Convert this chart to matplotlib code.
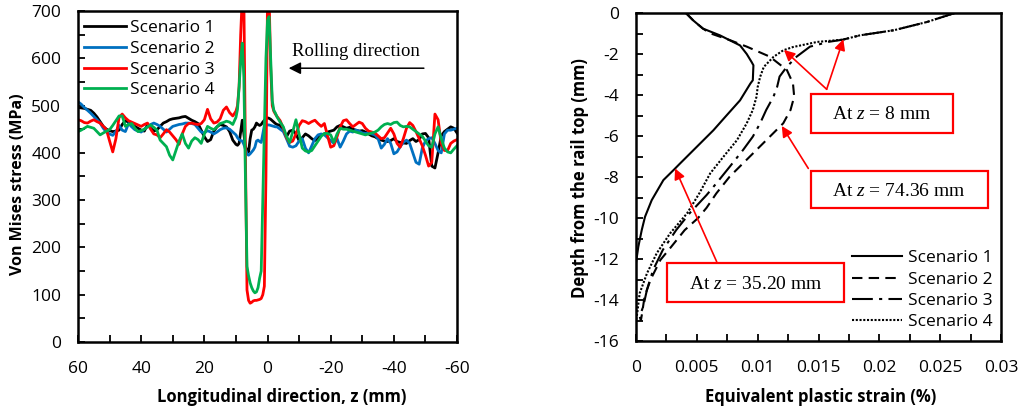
import numpy as np
import matplotlib
matplotlib.use("Agg")
import matplotlib.pyplot as plt
from matplotlib.patches import Rectangle
from matplotlib.ticker import MultipleLocator, FuncFormatter

plt.rcParams['font.family'] = ['Open Sans', 'DejaVu Sans']
plt.rcParams['axes.unicode_minus'] = False
plt.rcParams['mathtext.fontset'] = 'custom'
plt.rcParams['mathtext.rm'] = 'Liberation Serif'
plt.rcParams['mathtext.it'] = 'Liberation Serif:italic'

# ---------------- Von Mises stress along the rail (left panel) ----------------
# sampling positions along z (mm): 1 mm steps, 0.5 mm steps through the contact patch
z = np.concatenate([np.arange(60, 10, -1.0),
                    np.arange(10, -3, -0.5),
                    np.arange(-3, -61, -1.0)])

vm_s1 = [496, 495, 494, 492, 490, 484, 476, 466, 456, 450,
         447, 445, 446, 448, 460, 468, 465, 462, 456, 452,
         448, 446, 460, 452, 446, 449, 456, 463, 466, 470,
         472, 473, 474, 476, 477, 473, 469, 466, 462, 448,
         434, 424, 428, 446, 455, 460, 458, 455, 445, 427,
         418, 416, 420, 445, 469, 440, 413, 405, 402, 430, 448, 450, 455,
         463, 460, 458, 460, 465, 469, 472, 474, 473, 471, 468, 465, 462,
         460, 458, 448, 434, 446, 448, 440, 426, 432, 440,
         436, 430, 426, 432, 438, 440, 444, 446, 448, 455,
         458, 455, 452, 454, 450, 448, 446, 447, 444, 440,
         436, 434, 430, 427, 425, 424, 426, 430, 424, 422,
         421, 420, 426, 430, 424, 428, 440, 441, 432, 372,
         368, 400, 436, 445, 450, 455, 452, 442]

vm_s2 = [508, 503, 496, 490, 484, 477, 470, 463, 452, 444,
         440, 437, 445, 458, 448, 445, 462, 455, 449, 446,
         444, 450, 455, 460, 463, 460, 456, 450, 444, 450,
         456, 458, 460, 461, 463, 463, 462, 460, 452, 444,
         442, 447, 444, 440, 444, 449, 452, 453, 450, 444,
         438, 432, 428, 426, 425, 418, 408, 398, 395, 398, 402, 406, 412,
         425, 427, 424, 422, 440, 458, 460, 459, 459, 458, 457, 456, 455,
         455, 450, 445, 430, 414, 412, 415, 425, 430, 410,
         400, 415, 430, 438, 440, 438, 432, 426, 420, 430,
         412, 425, 440, 446, 444, 448, 446, 442, 441, 442,
         440, 438, 430, 410, 418, 430, 420, 398, 402, 413,
         422, 427, 420, 400, 380, 376, 410, 425, 430, 432,
         420, 405, 400, 440, 448, 448, 450, 452]

vm_s3 = [470, 468, 464, 463, 467, 470, 466, 463, 456, 449,
         425, 402, 430, 475, 482, 474, 468, 465, 462, 459,
         456, 460, 463, 450, 440, 438, 432, 440, 449, 444,
         436, 428, 418, 440, 456, 462, 463, 461, 460, 462,
         470, 492, 472, 463, 465, 472, 490, 497, 485, 478,
         488, 500, 540, 650, 730, 730, 400, 110, 88, 82, 84, 87, 88,
         88, 89, 90, 92, 100, 118, 350, 730, 730, 580, 500, 488, 482,
         477, 468, 452, 432, 422, 425, 440, 458, 468, 466,
         462, 466, 469, 462, 456, 462, 436, 412, 415, 434,
         455, 468, 470, 462, 455, 460, 465, 462, 452, 446,
         444, 442, 436, 430, 432, 442, 452, 440, 420, 412,
         430, 452, 464, 458, 445, 430, 415, 395, 372, 380,
         482, 470, 420, 405, 405, 420, 425, 428]

vm_s4 = [445, 448, 452, 456, 454, 452, 445, 438, 442, 446,
         449, 458, 468, 478, 478, 456, 460, 462, 452, 445,
         447, 450, 455, 459, 454, 448, 427, 420, 413, 395,
         385, 405, 425, 440, 420, 410, 425, 432, 428, 420,
         440, 456, 452, 449, 455, 462, 464, 467, 465, 460,
         475, 492, 540, 595, 632, 560, 350, 160, 140, 125, 115, 108, 104,
         106, 115, 135, 150, 300, 450, 600, 680, 688, 600, 510, 490, 484,
         476, 465, 455, 435, 422, 445, 470, 440, 410, 404,
         402, 405, 415, 425, 435, 441, 441, 438, 422, 440,
         452, 450, 450, 448, 446, 444, 442, 440, 438, 440,
         442, 444, 448, 455, 460, 462, 460, 464, 465, 458,
         455, 456, 455, 450, 445, 440, 435, 425, 415, 412,
         440, 455, 430, 410, 402, 400, 408, 415]

labels = ['Scenario 1', 'Scenario 2', 'Scenario 3', 'Scenario 4']
vm_colors = ['#000000', '#0070C0', '#FF0000', '#00B050']

# ---------------- Plastic strain with depth (right panel) ----------------
depth_s1 = [0, -0.36, -0.76, -1.09, -1.58, -2.0, -2.39, -2.55, -3.28, -3.44, -4.26,
            -4.99, -5.72, -6.53, -7.34, -7.67, -8.15, -9.13, -9.94, -10.59, -11.4,
            -11.97, -12.2, -15.0]
peeq_s1 = [0.0041, 0.0047, 0.0055, 0.0069, 0.00855, 0.0091, 0.0095, 0.00965, 0.0096,
           0.0094, 0.00855, 0.00745, 0.00636, 0.00499, 0.00362, 0.00307, 0.00225,
           0.00129, 0.00074, 0.00047, 0.00019, 0.00005, 0.0, 0.0]

depth_s2 = [0, -0.36, -0.76, -0.99, -1.32, -1.64, -2.13, -2.78, -3.43, -4.08, -4.73,
            -5.38, -6.03, -6.68, -7.33, -7.98, -8.8, -9.5, -10.0, -10.59, -11.4,
            -12.05, -13.0, -13.84, -14.65, -15.0]
peeq_s2 = [0.0041, 0.0047, 0.0055, 0.0061, 0.0077, 0.0091, 0.0110, 0.0124, 0.0129,
           0.0130, 0.0127, 0.0121, 0.0110, 0.0099, 0.0088, 0.0077, 0.0066, 0.0058,
           0.0051, 0.0040, 0.0029, 0.0020, 0.0012, 0.0007, 0.0005, 0.0004]

depth_s3 = [0, -0.44, -0.84, -1.09, -1.3, -1.4, -1.64, -2.13, -2.62, -3.1, -3.6,
            -4.08, -4.73, -5.38, -6.03, -6.68, -7.5, -8.31, -8.88, -9.77, -10.59,
            -11.56, -12.54, -13.5, -14.3, -14.8, -15.0]
peeq_s3 = [0.0262, 0.0239, 0.0212, 0.0184, 0.0170, 0.0159, 0.0143, 0.0132, 0.0124,
           0.0118, 0.0116, 0.0113, 0.0107, 0.0102, 0.0096, 0.0088, 0.0077, 0.0066,
           0.0058, 0.0044, 0.0033, 0.0022, 0.0014, 0.0009, 0.0006, 0.0003, 0.0004]

depth_s4 = [0, -0.44, -0.84, -1.09, -1.3, -1.41, -1.66, -1.82, -2.14, -2.63, -3.12,
            -3.61, -4.09, -4.73, -5.38, -6.2, -7.0, -7.82, -8.8, -9.77, -10.75,
            -11.72, -12.7, -13.67, -14.65, -15.0]
peeq_s4 = [0.0262, 0.0239, 0.0212, 0.0184, 0.0170, 0.0149, 0.0129, 0.0121, 0.0113,
           0.0105, 0.0102, 0.0100, 0.0099, 0.0096, 0.0091, 0.0083, 0.0072, 0.0061,
           0.0052, 0.0042, 0.0028, 0.0017, 0.0009, 0.0003, 0.0001, 0.0]

peeq_styles = ['-', (0, (5, 3)), (0, (10, 3, 1.5, 3)), (0, (1, 0.8))]

fig = plt.figure(figsize=(10.25, 4.13), dpi=100)
ax1 = fig.add_axes([0.0761, 0.1719, 0.3698, 0.8015])
ax2 = fig.add_axes([0.6205, 0.1743, 0.3561, 0.7942])

tick_font = 12.5
legend_font = 12.5

# left panel
for vals, col, lab in zip([vm_s1, vm_s2, vm_s3, vm_s4], vm_colors, labels):
    ax1.plot(z, vals, color=col, lw=2.0, label=lab, solid_joinstyle='round')
ax1.set_xlim(60, -60)
ax1.set_ylim(0, 700)
ax1.xaxis.set_major_locator(MultipleLocator(20))
ax1.xaxis.set_minor_locator(MultipleLocator(10))
ax1.yaxis.set_major_locator(MultipleLocator(100))
ax1.yaxis.set_minor_locator(MultipleLocator(50))
ax1.set_xlabel('Longitudinal direction, z (mm)', fontsize=12, fontweight='bold')
ax1.set_ylabel('Von Mises stress (MPa)', fontsize=11.5, fontweight='bold')
ax1.xaxis.set_label_coords(0.538, -0.166)
ax1.xaxis.label.set_va('center')
ax1.yaxis.set_label_coords(-0.158, 0.477)
ax1.yaxis.label.set_va('center')
ax1.legend(loc='upper left', bbox_to_anchor=(0.016, 0.972), frameon=False,
           fontsize=legend_font, handlelength=2.4, handletextpad=0.25,
           labelspacing=0.26, borderpad=0, borderaxespad=0)
ax1.text(-27.9, 615, 'Rolling direction', family='Liberation Serif', fontsize=13.5,
         ha='center', va='center')
ax1.annotate('', xy=(-6.7, 579), xytext=(-49.5, 579),
             arrowprops=dict(arrowstyle='-|>', color='black', lw=1.1,
                             mutation_scale=18, shrinkA=0, shrinkB=0))

# right panel
for d, p, ls, lab in zip([depth_s1, depth_s2, depth_s3, depth_s4],
                         [peeq_s1, peeq_s2, peeq_s3, peeq_s4], peeq_styles, labels):
    ax2.plot(p, d, color='black', lw=1.5, linestyle=ls, label=lab, dash_capstyle='butt')
ax2.set_xlim(0, 0.03)
ax2.set_ylim(-16, 0)
ax2.xaxis.set_major_locator(MultipleLocator(0.005))
ax2.xaxis.set_minor_locator(MultipleLocator(0.0025))
ax2.yaxis.set_major_locator(MultipleLocator(2))
ax2.yaxis.set_minor_locator(MultipleLocator(1))
ax2.xaxis.set_major_formatter(FuncFormatter(lambda v, p: f'{v:g}'))
ax2.set_xlabel('Equivalent plastic strain (%)', fontsize=12, fontweight='bold')
ax2.set_ylabel('Depth from the rail top (mm)', fontsize=12, fontweight='bold')
ax2.xaxis.set_label_coords(0.505, -0.171)
ax2.xaxis.label.set_va('center')
ax2.yaxis.set_label_coords(-0.153, 0.498)
ax2.yaxis.label.set_va('center')
ax2.legend(loc='upper left', bbox_to_anchor=(0.592, 0.277), frameon=False,
           fontsize=legend_font, handlelength=2.9, handletextpad=0.3,
           labelspacing=0.3, borderpad=0, borderaxespad=0)

# annotation boxes with arrows
boxes = [
    ((0.01436, -5.84), 0.01172, 1.89, 'At $z$ = 8 mm',
     [(0.01216, -1.80), (0.01704, -1.28)], (0.01567, -3.72)),
    ((0.01436, -9.53), 0.01455, 1.84, 'At $z$ = 74.36 mm',
     [(0.01198, -5.51)], (0.01416, -7.58)),
    ((0.00257, -14.08), 0.01453, 1.87, 'At $z$ = 35.20 mm',
     [(0.00321, -7.58)], (0.00663, -12.13)),
]
for (x0, y0), w, h, txt, heads, tail in boxes:
    for hd in heads:
        ax2.annotate('', xy=hd, xytext=tail,
                     arrowprops=dict(arrowstyle='-|>', color='#FF0000', lw=1.2,
                                     mutation_scale=16, shrinkA=0, shrinkB=0),
                     zorder=4)
    ax2.add_patch(Rectangle((x0, y0), w, h, facecolor='white', edgecolor='#FF0000',
                            lw=1.6, zorder=5))
    ax2.text(x0 + w / 2, y0 + h / 2 - 0.08, txt, family='Liberation Serif', fontsize=14,
             ha='center', va='center', zorder=6)

for ax in (ax1, ax2):
    for sp in ax.spines.values():
        sp.set_linewidth(1.8)
    ax.tick_params(which='both', direction='in', length=5, width=1.3,
                   top=False, right=False)
    ax.tick_params(axis='y', which='major', labelsize=tick_font, pad=12)
    ax.tick_params(axis='x', which='major', labelsize=tick_font, pad=14)

fig.savefig('out.png', dpi=100)
